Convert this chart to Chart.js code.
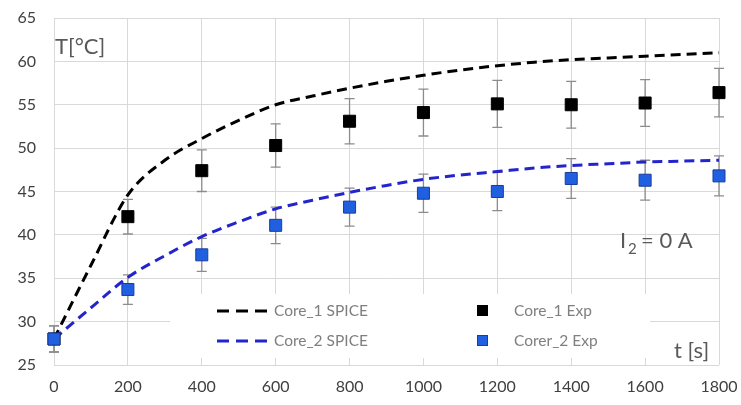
<!DOCTYPE html>
<html lang="en">
<head>
    <meta charset="UTF-8">
    <title>Core temperature</title>
    <style>
        html, body { margin: 0; padding: 0; background: #fff; }
        #wrap { width: 741px; height: 405px; position: relative; }
    </style>
</head>
<body>
    <div id="wrap"><canvas id="tempChart" width="741" height="405"></canvas></div>
    <script src="https://cdn.jsdelivr.net/npm/chart.js"></script>
    <script>
        // simulated curves (SPICE)
        const spiceTime = [0, 100, 200, 300, 400, 500, 600, 700, 800, 900, 1000, 1100, 1200, 1300, 1400, 1500, 1600, 1700, 1800];
        const core1Spice = [28, 36.5, 44.6, 48.6, 51.1, 53.2, 55.0, 56.0, 56.9, 57.7, 58.4, 59.0, 59.5, 59.9, 60.2, 60.4, 60.6, 60.8, 61.0];
        const core2Spice = [28, 31.6, 35.1, 37.6, 39.8, 41.5, 43.0, 44.0, 44.9, 45.7, 46.4, 46.9, 47.3, 47.7, 48.0, 48.2, 48.4, 48.5, 48.6];

        // measurements
        const expTime = [0, 200, 400, 600, 800, 1000, 1200, 1400, 1600, 1800];
        const core1Exp = [28, 42.1, 47.4, 50.3, 53.1, 54.1, 55.1, 55.0, 55.2, 56.4];
        const core1Err = [1.5, 2.0, 2.4, 2.5, 2.6, 2.7, 2.7, 2.7, 2.7, 2.8];
        const core2Exp = [28, 33.7, 37.7, 41.1, 43.2, 44.8, 45.0, 46.5, 46.3, 46.8];
        const core2Err = [1.5, 1.7, 1.9, 2.1, 2.2, 2.2, 2.2, 2.3, 2.3, 2.3];

        const xTicks = [0, 200, 400, 600, 800, 1000, 1200, 1400, 1600, 1800];
        const yTicks = [25, 30, 35, 40, 45, 50, 55, 60, 65];

        const toPoints = (xs, ys) => xs.map((x, i) => ({ x: x, y: ys[i] }));

        const errorBars = {
            id: 'errorBars',
            beforeDatasetsDraw(chart) {
                const ctx = chart.ctx;
                const xs = chart.scales.x, ys = chart.scales.y;
                // white legend panel, hides the grid behind it
                ctx.save();
                ctx.fillStyle = '#fff';
                ctx.fillRect(170, 294, 480, 64);
                ctx.strokeStyle = '#8c8c8c';
                ctx.lineWidth = 1.3;
                [[core1Exp, core1Err], [core2Exp, core2Err]].forEach(([vals, errs]) => {
                    expTime.forEach((t, i) => {
                        const px = xs.getPixelForValue(t);
                        const top = ys.getPixelForValue(vals[i] + errs[i]);
                        const bot = ys.getPixelForValue(vals[i] - errs[i]);
                        ctx.beginPath();
                        ctx.moveTo(px, top); ctx.lineTo(px, bot);
                        ctx.moveTo(px - 5, top); ctx.lineTo(px + 5, top);
                        ctx.moveTo(px - 5, bot); ctx.lineTo(px + 5, bot);
                        ctx.stroke();
                    });
                });
                ctx.restore();
            },
            afterDraw(chart) {
                const ctx = chart.ctx;
                ctx.save();
                // legend
                ctx.font = '15.5px Lato';
                ctx.fillStyle = '#7f7f7f';
                ctx.textBaseline = 'middle';
                ctx.lineWidth = 3;
                ctx.setLineDash([12, 7]);
                ctx.strokeStyle = '#000';
                ctx.beginPath(); ctx.moveTo(217, 311); ctx.lineTo(269, 311); ctx.stroke();
                ctx.strokeStyle = '#2424cc';
                ctx.beginPath(); ctx.moveTo(217, 341); ctx.lineTo(269, 341); ctx.stroke();
                ctx.setLineDash([]);
                ctx.fillText('Core_1 SPICE', 274, 311);
                ctx.fillText('Core_2 SPICE', 274, 341);
                ctx.fillStyle = '#000';
                ctx.fillRect(477, 305, 11, 11);
                ctx.fillStyle = '#1f5fe0';
                ctx.fillRect(477, 335, 11, 11);
                ctx.strokeStyle = '#1c3c9c';
                ctx.lineWidth = 1;
                ctx.strokeRect(477.5, 335.5, 10, 10);
                ctx.fillStyle = '#7f7f7f';
                ctx.fillText('Core_1 Exp', 514, 311);
                ctx.fillText('Corer_2 Exp', 514, 341);

                // annotations
                ctx.fillStyle = '#595959';
                ctx.textBaseline = 'alphabetic';
                ctx.font = '22px Lato';
                ctx.fillText('T[°C]', 55, 54);
                ctx.fillText('I', 620, 248);
                ctx.font = '15px Lato';
                ctx.fillText('2', 628, 254);
                ctx.font = '22px Lato';
                ctx.fillText('= 0 A', 641, 248);
                ctx.fillText('t [s]', 674, 358);
                ctx.restore();
            }
        };

        new Chart(document.getElementById('tempChart'), {
            type: 'line',
            data: {
                datasets: [{
                    label: 'Corer_2 Exp',
                    data: toPoints(expTime, core2Exp),
                    showLine: false,
                    pointStyle: 'rect',
                    pointRadius: 8.5,
                    backgroundColor: '#1f5fe0',
                    borderColor: '#1c3c9c',
                    borderWidth: 1,
                    clip: false
                }, {
                    label: 'Core_1 Exp',
                    data: toPoints(expTime, core1Exp),
                    showLine: false,
                    pointStyle: 'rect',
                    pointRadius: 8.5,
                    backgroundColor: '#000',
                    borderColor: '#000',
                    borderWidth: 1,
                    clip: false
                }, {
                    label: 'Core_1 SPICE',
                    data: toPoints(spiceTime, core1Spice),
                    borderColor: '#000',
                    borderWidth: 3,
                    borderDash: [10, 6],
                    pointRadius: 0,
                    cubicInterpolationMode: 'monotone',
                    fill: false
                }, {
                    label: 'Core_2 SPICE',
                    data: toPoints(spiceTime, core2Spice),
                    borderColor: '#2424cc',
                    borderWidth: 3,
                    borderDash: [10, 6],
                    pointRadius: 0,
                    cubicInterpolationMode: 'monotone',
                    fill: false
                }]
            },
            options: {
                responsive: false,
                animation: false,
                events: [],
                layout: { padding: { left: 0, right: 22, top: 18, bottom: 0 } },
                plugins: { legend: { display: false }, tooltip: { enabled: false } },
                scales: {
                    x: {
                        type: 'linear',
                        min: 0, max: 1800,
                        afterBuildTicks: (s) => { s.ticks = xTicks.map(v => ({ value: v })); },
                        afterFit: (s) => { s.height = 40; s.paddingLeft = 0; s.paddingRight = 0; },
                        grid: { color: '#d9d9d9', lineWidth: 1, drawTicks: false },
                        border: { display: false },
                        ticks: { color: '#404040', font: { family: 'Lato', size: 16 }, padding: 12, maxRotation: 0,
                                 callback: (v) => String(v) }
                    },
                    y: {
                        min: 25, max: 65,
                        afterBuildTicks: (s) => { s.ticks = yTicks.map(v => ({ value: v })); },
                        afterFit: (s) => { s.width = 54; s.paddingTop = 0; s.paddingBottom = 0; },
                        grid: { color: '#d9d9d9', lineWidth: 1, drawTicks: false },
                        border: { display: false },
                        ticks: { color: '#404040', font: { family: 'Lato', size: 16 }, padding: 18 }
                    }
                }
            },
            plugins: [errorBars]
        });
    </script>
</body>
</html>
